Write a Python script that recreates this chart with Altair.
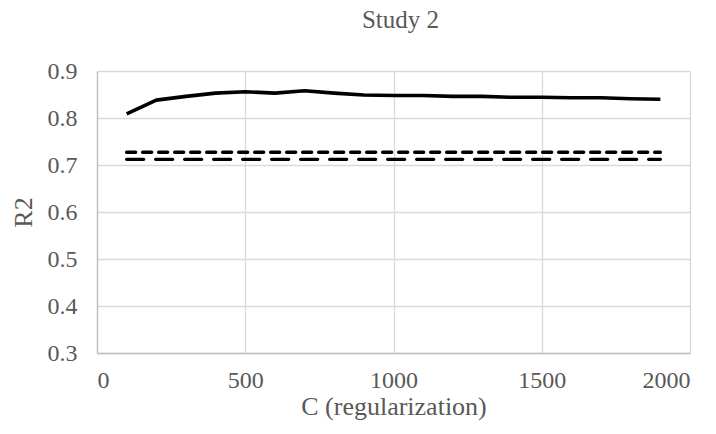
import altair as alt
import pandas as pd

c_values = [100, 200, 300, 400, 500, 600, 700, 800, 900, 1000,
            1100, 1200, 1300, 1400, 1500, 1600, 1700, 1800, 1900]
r2_model = [0.809, 0.838, 0.846, 0.853, 0.856, 0.853, 0.858, 0.853, 0.849, 0.848,
            0.848, 0.846, 0.846, 0.844, 0.844, 0.843, 0.843, 0.841, 0.840]
r2_base_a = [0.727] * 19
r2_base_b = [0.712] * 19

df = pd.DataFrame({"C": c_values, "Model": r2_model, "BaseA": r2_base_a, "BaseB": r2_base_b})

FONT = "Liberation Serif"
TXT = "#595959"

x_enc = alt.X("C:Q", scale=alt.Scale(domain=[0, 2000], nice=False),
              axis=alt.Axis(values=[0, 500, 1000, 1500, 2000], format="d", title="C (regularization)",
                            labelPadding=15, titleY=61, titleBaseline="alphabetic"))
y_scale = alt.Scale(domain=[0.3, 0.9], nice=False, zero=False)
y_axis = alt.Axis(values=[0.3, 0.4, 0.5, 0.6, 0.7, 0.8, 0.9], format=".1f", title="R2",
                  labelPadding=20, titleX=-66, titleY=141, titleAngle=-90,
                  titleBaseline="alphabetic", titleAlign="center")

base = alt.Chart(df)
solid = base.mark_line(color="black", strokeWidth=3.6, strokeJoin="round").encode(
    x=x_enc, y=alt.Y("Model:Q", scale=y_scale, axis=y_axis))
dash_a = base.mark_line(color="black", strokeWidth=3.4, strokeDash=[9, 7], strokeCap="round").encode(
    x=x_enc, y=alt.Y("BaseA:Q", scale=y_scale, axis=y_axis))
dash_b = base.mark_line(color="black", strokeWidth=3.4, strokeDash=[17, 12], strokeCap="round").encode(
    x=x_enc, y=alt.Y("BaseB:Q", scale=y_scale, axis=y_axis))

chart = alt.layer(solid, dash_a, dash_b).properties(
    width=593, height=282,
    background="white",
    title=alt.TitleParams("Study 2", font=FONT, fontSize=25, fontWeight="normal", color=TXT,
                          anchor="middle", dx=7, offset=6, baseline="alphabetic"),
    autosize=alt.AutoSizeParams(type="none"),
    padding={"left": 97, "top": 71, "right": 26, "bottom": 81},
).configure_view(stroke=None).configure_axis(
    labelFont=FONT, labelFontSize=24, labelColor=TXT,
    titleFont=FONT, titleFontSize=26, titleFontWeight="normal", titleColor=TXT,
    ticks=False, tickSize=0, grid=True, gridColor="#d9d9d9", gridWidth=1.3,
    domainColor="#bfbfbf", domainWidth=1.3,
)

chart.save("out.html", embed_options={"renderer": "svg", "actions": False})
